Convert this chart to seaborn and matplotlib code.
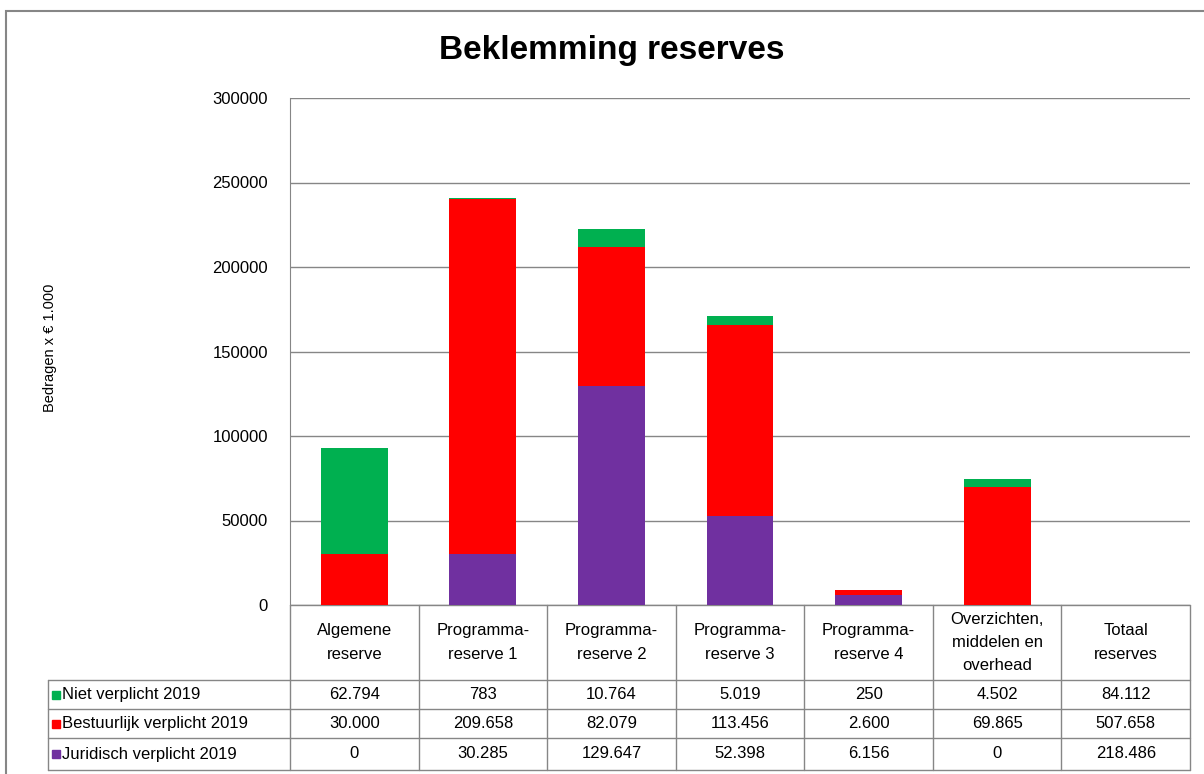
import matplotlib.pyplot as plt
import matplotlib.patches as mpatches
import pandas as pd
import seaborn as sns

# Data (values in € 1.000)
categories = ["Algemene\nreserve", "Programma-\nreserve 1", "Programma-\nreserve 2",
              "Programma-\nreserve 3", "Programma-\nreserve 4",
              "Overzichten,\nmiddelen en\noverhead", "Totaal\nreserves"]
series_names = ["Niet verplicht 2019", "Bestuurlijk verplicht 2019", "Juridisch verplicht 2019"]
niet = [62794, 783, 10764, 5019, 250, 4502, 84112]
bestuurlijk = [30000, 209658, 82079, 113456, 2600, 69865, 507658]
juridisch = [0, 30285, 129647, 52398, 6156, 0, 218486]
colors = ["#00B050", "#FF0000", "#7030A0"]

sns.set_style("white")
plt.rcParams["font.family"] = ["Liberation Sans", "DejaVu Sans"]
plt.rcParams["text.color"] = "black"
plt.rcParams["ytick.color"] = "black"

# bars are drawn for the reserves only, the total column is table-only
df = pd.DataFrame({"cat": categories[:-1], "niet": niet[:-1],
                   "best": bestuurlijk[:-1], "jur": juridisch[:-1]})
df["c_jur"] = df["jur"]
df["c_best"] = df["jur"] + df["best"]
df["c_niet"] = df["c_best"] + df["niet"]

fig = plt.figure(figsize=(12.04, 7.74), dpi=100)
ax = fig.add_axes([290 / 1204, 1 - 605 / 774, 900 / 1204, 507 / 774])

# stacked bars: draw cumulative totals from the top layer down
for col, color in zip(["c_niet", "c_best", "c_jur"], colors):
    sns.barplot(data=df, x="cat", y=col, order=categories, color=color,
                width=0.52, saturation=1, linewidth=0, ax=ax, zorder=3)

ax.set_xlim(-0.5, len(categories) - 0.5)
ax.set_ylim(0, 300000)
ax.set_yticks(range(0, 300001, 50000))
ax.set_yticklabels([str(v) for v in range(0, 300001, 50000)], fontsize=12)
ax.tick_params(axis="y", length=0, pad=16)
ax.set_xticks([])
ax.set_xlabel("")
ax.set_ylabel("")
ax.yaxis.grid(True, color="#868686", linewidth=1)
ax.set_axisbelow(True)
for s in ["top", "right", "bottom"]:
    ax.spines[s].set_visible(False)
ax.spines["left"].set_color("#868686")

fig.text(612 / 1204, 1 - 50 / 774, "Beklemming reserves", fontsize=24,
         fontweight="bold", ha="center", va="center")

fig.text(50 / 1204, 1 - 348 / 774, "Bedragen x € 1.000", rotation=90,
         ha="center", va="center", fontsize=10.5)

# data table under the axis
tr = ax.transAxes
px = 1 / 507
n = len(categories)
y_head = 0
y_rows = [-(680 - 605) * px, -(709 - 605) * px, -(738 - 605) * px, -(770 - 605) * px]
x_lab = (48 - 290) / 900
lc = "#868686"
line_kw = dict(color=lc, linewidth=1, transform=tr, clip_on=False)

ax.plot([0, 1], [y_head, y_head], **line_kw)
for y in y_rows:
    ax.plot([x_lab, 1], [y, y], **line_kw)
for i in range(n + 1):
    ax.plot([i / n, i / n], [y_head, y_rows[-1]], **line_kw)
ax.plot([x_lab, x_lab], [y_rows[0], y_rows[-1]], **line_kw)

for i, cat in enumerate(categories):
    ax.text((i + 0.5) / n, (y_head + y_rows[0]) / 2, cat, transform=tr,
            ha="center", va="center", fontsize=12, linespacing=1.7)

for r, (name, vals, color) in enumerate(zip(series_names, [niet, bestuurlijk, juridisch], colors)):
    yc = (y_rows[r] + y_rows[r + 1]) / 2
    ax.add_patch(mpatches.Rectangle((x_lab + 4 / 900, yc - 4 * px), 8 / 900, 8 * px,
                                    transform=tr, color=color, clip_on=False))
    ax.text(x_lab + 14 / 900, yc, name, transform=tr, ha="left", va="center", fontsize=12)
    for i, v in enumerate(vals):
        ax.text((i + 0.5) / n, yc, f"{v:,}".replace(",", "."), transform=tr,
                ha="center", va="center", fontsize=12)

# outer chart border
fig.patches.append(mpatches.Rectangle((6 / 1204, -0.1), 1.1, 1 - 11 / 774 + 0.1,
                                      transform=fig.transFigure, fill=False,
                                      edgecolor="#868686", linewidth=1.5))

fig.savefig("out.png", dpi=100)
